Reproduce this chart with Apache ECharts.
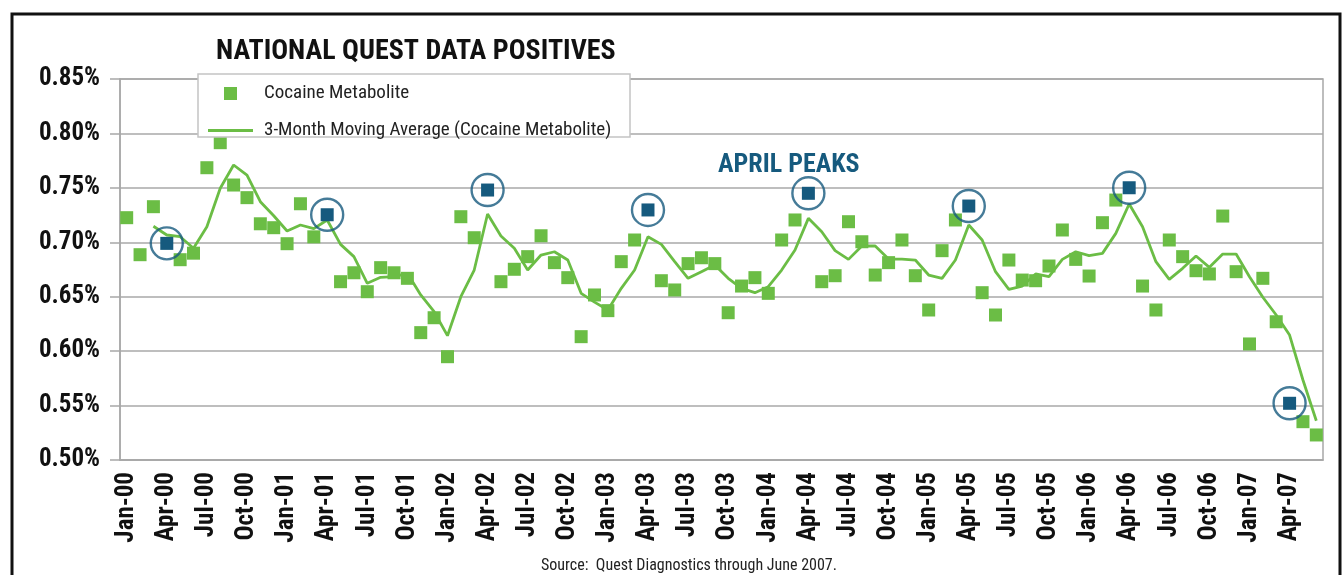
<!DOCTYPE html>
<html>
<head>
<meta charset="utf-8">
<script src="https://cdn.jsdelivr.net/npm/echarts@6/dist/echarts.min.js"></script>
<style>
  html, body { margin: 0; padding: 0; background: #fff; }
  #main { width: 1343px; height: 575px; }
</style>
</head>
<body>
<div id="main"></div>
<script>
// categories: Jan-00 .. Jun-07
var monthNames = ['Jan', 'Feb', 'Mar', 'Apr', 'May', 'Jun', 'Jul', 'Aug', 'Sep', 'Oct', 'Nov', 'Dec'];
var years = ['00', '01', '02', '03', '04', '05', '06', '07'];
var months = [];
for (var y = 0; y < years.length; y++) {
    for (var m = 0; m < 12; m++) {
        if (y == 7 && m > 5) break;
        months.push(monthNames[m] + '-' + years[y]);
    }
}

// monthly % positive
var cocaine = [
    0.7226, 0.6886, 0.7327, 0.6990, 0.6840, 0.6900, 0.7685, 0.7915, 0.7526, 0.7410, 0.7170, 0.7134,
    0.6987, 0.7354, 0.7050, 0.7253, 0.6638, 0.6720, 0.6546, 0.6767, 0.6720, 0.6669, 0.6170, 0.6307,
    0.5949, 0.7235, 0.7042, 0.7480, 0.6638, 0.6752, 0.6868, 0.7060, 0.6813, 0.6675, 0.6133, 0.6516,
    0.6372, 0.6822, 0.7021, 0.7297, 0.6647, 0.6562, 0.6804, 0.6858, 0.6804, 0.6353, 0.6598, 0.6675,
    0.6531, 0.7021, 0.7205, 0.7450, 0.6638, 0.6693, 0.7189, 0.7005, 0.6699, 0.6813, 0.7021, 0.6693,
    0.6378, 0.6923, 0.7205, 0.7333, 0.6537, 0.6332, 0.6837, 0.6653, 0.6647, 0.6782, 0.7113, 0.6843,
    0.6690, 0.7180, 0.7388, 0.7501, 0.6598, 0.6378, 0.7021, 0.6868, 0.6739, 0.6709, 0.7241, 0.6730,
    0.6066, 0.6669, 0.6270, 0.5521, 0.5352, 0.5230
];

// 3-month moving average line
var movingAvg = [
    null, null, 0.7147, 0.7067, 0.7051, 0.6945, 0.7143, 0.7496, 0.7710, 0.7618, 0.7373, 0.7244,
    0.7104, 0.7159, 0.7125, 0.7205, 0.6981, 0.6868, 0.6623, 0.6678, 0.6684, 0.6715, 0.6516, 0.6362,
    0.6142, 0.6500, 0.6745, 0.7260, 0.7058, 0.6945, 0.6745, 0.6883, 0.6913, 0.6837, 0.6531, 0.6450,
    0.6378, 0.6577, 0.6745, 0.7051, 0.6981, 0.6822, 0.6669, 0.6730, 0.6791, 0.6669, 0.6577, 0.6537,
    0.6592, 0.6745, 0.6929, 0.7220, 0.7097, 0.6923, 0.6843, 0.6966, 0.6966, 0.6846, 0.6846, 0.6837,
    0.6699, 0.6669, 0.6837, 0.7159, 0.7021, 0.6730, 0.6568, 0.6598, 0.6709, 0.6684, 0.6843, 0.6913,
    0.6877, 0.6898, 0.7082, 0.7352, 0.7143, 0.6822, 0.6660, 0.6761, 0.6874, 0.6770, 0.6892, 0.6892,
    0.6684, 0.6495, 0.6332, 0.6148, 0.5735, 0.5361
];

// the circled april months
var aprilPeaks = ['Apr-00', 'Apr-01', 'Apr-02', 'Apr-03', 'Apr-04', 'Apr-05', 'Apr-06', 'Apr-07'];

var yTicks = [0.50, 0.55, 0.60, 0.65, 0.70, 0.75, 0.80, 0.85];

var green = '#6bbd45';
var navy = '#165a7e';
var narrow = '"Liberation Sans Narrow", "Roboto Condensed", "Noto Sans Condensed", "DejaVu Sans Condensed", "Arial Narrow", sans-serif';

var scatterData = [];
for (var i = 0; i < cocaine.length; i++) {
    if (aprilPeaks.indexOf(months[i]) >= 0) {
        scatterData.push({ value: cocaine[i], itemStyle: { color: navy } });
    } else {
        scatterData.push(cocaine[i]);
    }
}
var circleData = [];
for (var k = 0; k < aprilPeaks.length; k++) {
    var idx = months.indexOf(aprilPeaks[k]);
    circleData.push([idx, cocaine[idx]]);
}

var mychart = echarts.init(document.getElementById('main'));
var option = {
    animation: false,
    backgroundColor: '#fff',
    title: [
        {
            text: 'NATIONAL QUEST DATA POSITIVES',
            left: 211,
            top: 33,
            textStyle: { fontFamily: narrow, fontWeight: 'bold', fontSize: 28, color: '#111' }
        },
        {
            text: 'APRIL PEAKS',
            left: 713,
            top: 147,
            textStyle: { fontFamily: narrow, fontWeight: 'bold', fontSize: 26, color: navy }
        },
        {
            text: 'Source:  Quest Diagnostics through June 2007.',
            left: 684,
            textAlign: 'center',
            top: 553,
            textStyle: { fontFamily: narrow, fontWeight: 'normal', fontSize: 16, color: '#222' }
        }
    ],
    graphic: [
        {
            type: 'rect',
            z: 1,
            shape: { x: 12, y: 14, width: 1328, height: 600 },
            style: { fill: 'none', stroke: '#111', lineWidth: 3 }
        },
        {
            type: 'rect',
            z: 5,
            shape: { x: 198, y: 74, width: 432, height: 63 },
            style: { fill: '#fff', stroke: '#c4c4c4', lineWidth: 1.5 }
        }
    ],
    legend: {
        z: 10,
        orient: 'vertical',
        left: 208,
        top: 84,
        padding: 0,
        itemWidth: 45,
        itemHeight: 13,
        itemGap: 18,
        textStyle: { fontFamily: narrow, fontSize: 19, color: '#222', padding: [0, 0, 0, 6] },
        data: [
            { name: 'Cocaine Metabolite', icon: 'path://M0,0H10V10H0Z' },
            { name: '3-Month Moving Average (Cocaine Metabolite)', icon: 'path://M0,0H45V2.8H0Z' }
        ]
    },
    grid: {
        left: 120,
        right: 20,
        top: 79,
        bottom: 115,
        show: true,
        borderColor: '#a8a8a8',
        borderWidth: 1.5
    },
    xAxis: {
        type: 'category',
        data: months,
        boundaryGap: true,
        axisLine: { lineStyle: { color: '#a8a8a8', width: 1.5 } },
        axisTick: { interval: 2, length: 6, lineStyle: { color: '#a8a8a8', width: 1.5 } },
        axisLabel: {
            interval: 2,
            rotate: 90,
            margin: 12,
            fontFamily: narrow,
            fontWeight: 'bold',
            fontSize: 25,
            color: '#111'
        },
        splitLine: { show: false }
    },
    yAxis: {
        type: 'value',
        min: yTicks[0],
        max: yTicks[yTicks.length - 1],
        interval: 0.05,
        axisLine: { show: true, lineStyle: { color: '#a8a8a8', width: 1.5 } },
        axisTick: { show: true, inside: false, length: 10, lineStyle: { color: '#a8a8a8', width: 1.5 } },
        axisLabel: {
            margin: 20,
            fontFamily: narrow,
            fontWeight: 'bold',
            fontSize: 25,
            color: '#111',
            formatter: function (v) { return v.toFixed(2) + '%'; }
        },
        splitLine: { lineStyle: { color: '#a8a8a8', width: 1.5 } }
    },
    series: [
        {
            name: '3-Month Moving Average (Cocaine Metabolite)',
            type: 'line',
            z: 2,
            symbol: 'none',
            data: movingAvg,
            lineStyle: { color: green, width: 2.8 },
            itemStyle: { color: green }
        },
        {
            name: 'Cocaine Metabolite',
            type: 'scatter',
            z: 3,
            symbol: 'rect',
            symbolSize: 13,
            data: scatterData,
            itemStyle: { color: green, opacity: 1 }
        },
        {
            name: 'April Peaks',
            type: 'scatter',
            z: 4,
            symbol: 'circle',
            symbolSize: 32,
            data: circleData,
            itemStyle: { color: 'rgba(0,0,0,0)', borderColor: navy, borderWidth: 2.4 }
        }
    ]
};
mychart.setOption(option);
</script>
</body>
</html>
